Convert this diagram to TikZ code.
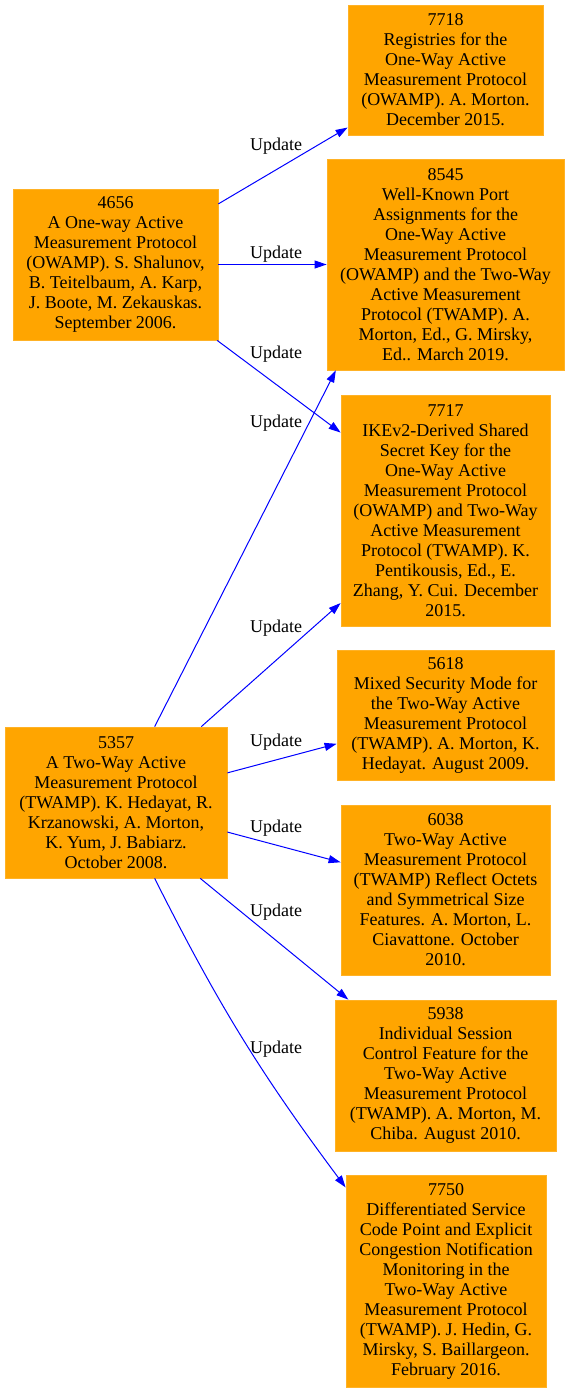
\documentclass[tikz,border=0pt]{standalone}
\usepackage{fontspec}
\setmainfont{Liberation Serif}
\usetikzlibrary{arrows.meta}
\definecolor{rfcorange}{HTML}{FFA500}

\begin{document}
\begin{tikzpicture}[
    x=1pt, y=-1pt,
    font=\fontsize{18}{20}\selectfont,
    rfc/.style={
        rectangle, draw=rfcorange!85!white, fill=rfcorange, line width=0.8pt,
        inner sep=0pt, align=center, text=black
    },
    update/.style={
        draw=blue, line width=1pt, -{Triangle[length=12pt,width=8pt]}
    },
    updlabel/.style={
        inner sep=0pt, text=black
    }
]
    \useasboundingbox (0,0) rectangle (569,1392);

    % Source RFCs
    \node[rfc, minimum width=205pt, minimum height=151pt] (n4656) at (115.5,264.5)
        {4656\\A One-way Active\\Measurement Protocol\\(OWAMP). S. Shalunov,\\B. Teitelbaum, A. Karp,\\J. Boote, M. Zekauskas.\\September 2006.};
    \node[rfc, minimum width=222pt, minimum height=151pt] (n5357) at (116,802.5)
        {5357\\A Two-Way Active\\Measurement Protocol\\(TWAMP). K. Hedayat, R.\\Krzanowski, A. Morton,\\K. Yum, J. Babiarz.\\October 2008.};

    % Updating RFCs
    \node[rfc, minimum width=195pt, minimum height=130pt] (n7718) at (445.5,70)
        {7718\\Registries for the\\One-Way Active\\Measurement Protocol\\(OWAMP). A. Morton.\\December 2015.};
    \node[rfc, minimum width=237pt, minimum height=211pt] (n8545) at (445.5,264.5)
        {8545\\Well-Known Port\\Assignments for the\\One-Way Active\\Measurement Protocol\\(OWAMP) and the Two-Way\\Active Measurement\\Protocol (TWAMP). A.\\Morton, Ed., G. Mirsky,\\Ed.. March 2019.};
    \node[rfc, minimum width=209pt, minimum height=231pt] (n7717) at (445.5,510.5)
        {7717\\IKEv2-Derived Shared\\Secret Key for the\\One-Way Active\\Measurement Protocol\\(OWAMP) and Two-Way\\Active Measurement\\Protocol (TWAMP). K.\\Pentikousis, Ed., E.\\Zhang, Y. Cui. December\\2015.};
    \node[rfc, minimum width=217pt, minimum height=130pt] (n5618) at (445.5,715)
        {5618\\Mixed Security Mode for\\the Two-Way Active\\Measurement Protocol\\(TWAMP). A. Morton, K.\\Hedayat. August 2009.};
    \node[rfc, minimum width=209pt, minimum height=170pt] (n6038) at (445.5,890)
        {6038\\Two-Way Active\\Measurement Protocol\\(TWAMP) Reflect Octets\\and Symmetrical Size\\Features. A. Morton, L.\\Ciavattone. October\\2010.};
    \node[rfc, minimum width=221pt, minimum height=151pt] (n5938) at (445.5,1075.5)
        {5938\\Individual Session\\Control Feature for the\\Two-Way Active\\Measurement Protocol\\(TWAMP). A. Morton, M.\\Chiba. August 2010.};
    \node[rfc, minimum width=200pt, minimum height=212pt] (n7750) at (446,1281)
        {7750\\Differentiated Service\\Code Point and Explicit\\Congestion Notification\\Monitoring in the\\Two-Way Active\\Measurement Protocol\\(TWAMP). J. Hedin, G.\\Mirsky, S. Baillargeon.\\February 2016.};

    % Updates from 4656
    \draw[update] (n4656) -- (n7718);
    \draw[update] (n4656) -- (n8545);
    \draw[update] (n4656) -- (n7717);

    % Updates from 5357
    \draw[update] (n5357.63) -- (n8545.224);
    \draw[update] (n5357) -- (n7717);
    \draw[update] (n5357) -- (n5618);
    \draw[update] (n5357) -- (n6038);
    \draw[update] (n5357.318) -- (n5938.142);
    \draw[update] (n5357.297) to[bend right=5] (n7750.137);

    % Edge labels
    \node[updlabel] (u1) at (276,146) {Update};
    \node[updlabel] (u2) at (276,254) {Update};
    \node[updlabel] (u3) at (276,354) {Update};
    \node[updlabel] (u4) at (276,423) {Update};
    \node[updlabel] (u5) at (276,628) {Update};
    \node[updlabel] (u6) at (276,742) {Update};
    \node[updlabel] (u7) at (276,828) {Update};
    \node[updlabel] (u8) at (276,912) {Update};
    \node[updlabel] (u9) at (276,1049) {Update};

\end{tikzpicture}
\end{document}
